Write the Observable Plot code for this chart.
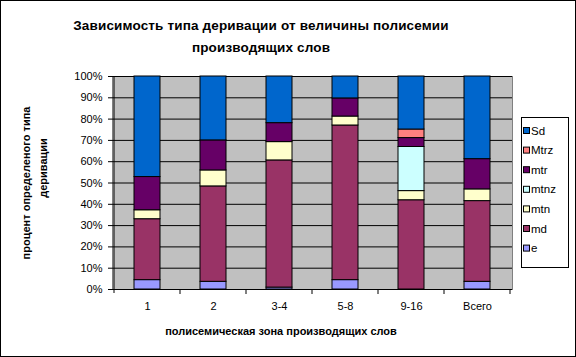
<!DOCTYPE html>
<html>
<head>
<meta charset="utf-8">
<script src="https://cdn.jsdelivr.net/npm/d3@7"></script>
<script src="https://cdn.jsdelivr.net/npm/@observablehq/plot@0.6"></script>
<style>
  html, body { margin: 0; padding: 0; background: white; }
  svg { display: block; }
</style>
</head>
<body>
<div id="chart"></div>
<script>
const categories = ["1", "2", "3-4", "5-8", "9-16", "Всего"];
// percent values per series (bottom to top order in stack)
const e    = [4.4, 3.6, 0.9, 4.4, 0.0, 3.6];
const md   = [28.6, 44.8, 59.7, 72.6, 41.9, 37.9];
const mtn  = [4.2, 7.5, 8.6, 4.2, 4.3, 5.5];
const mtnz = [0, 0, 0, 0, 20.7, 0];
const mtr  = [15.6, 14.1, 8.9, 8.5, 4.2, 14.2];
const Mtrz = [0, 0, 0, 0, 4.0, 0];
const Sd   = [47.2, 30.0, 21.9, 10.3, 24.9, 38.8];

const stackOrder = ["e", "md", "mtn", "mtnz", "mtr", "Mtrz", "Sd"];
const legendOrder = ["Sd", "Mtrz", "mtr", "mtnz", "mtn", "md", "e"];
const seriesColors = ["#9999FF", "#993366", "#FFFFCC", "#CCFFFF", "#660066", "#FF8080", "#0066CC"];
const seriesValues = [e, md, mtn, mtnz, mtr, Mtrz, Sd];

const titleLines = ["Зависимость типа деривации от величины полисемии", "производящих слов"];
const yTitleLines = ["процент определеного типа", "деривации"];
const xTitle = "полисемическая зона производящих слов";
const yTicks = [0, 0.1, 0.2, 0.3, 0.4, 0.5, 0.6, 0.7, 0.8, 0.9, 1];

const rows = categories.flatMap((c, i) =>
  stackOrder.map((s, j) => ({cat: c, series: s, value: seriesValues[j][i] / 100}))
);

const font = "'Liberation Sans', Arial, sans-serif";

const chart = Plot.plot({
  width: 576,
  height: 357,
  marginLeft: 112,
  marginRight: 64,
  marginTop: 76,
  marginBottom: 68,
  style: {background: "white", fontFamily: font, fontSize: "11px", color: "black", overflow: "visible"},
  x: {domain: categories, paddingInner: 0.61, paddingOuter: 0.305, label: null},
  y: {domain: [0, 1], label: null},
  color: {domain: stackOrder, range: seriesColors},
  marks: [
    Plot.frame({fill: "#C0C0C0", stroke: "#808080"}),
    Plot.gridY(yTicks, {stroke: "black", strokeOpacity: 1}),
    Plot.barY(rows, Plot.stackY({order: stackOrder}, {x: "cat", y: "value", fill: "series", stroke: "black", strokeWidth: 1})),
    Plot.ruleY([0], {stroke: "black"}),
    Plot.axisY(yTicks, {tickSize: 4, tickPadding: 6, tickFormat: d3.format(".0%"), stroke: "black", label: null, fontSize: 11}),
    Plot.axisX({tickSize: 0, tickPadding: 13, label: null, fontSize: 11})
  ]
});

document.getElementById("chart").appendChild(chart);

const svg = d3.select(chart);
const xs = chart.scale("x");
const ys = chart.scale("y");
const step = xs.step;
const x0 = xs.apply(categories[0]) - (step - xs.bandwidth) / 2;
const yBottom = ys.apply(0);
const yTop = ys.apply(1);

// left axis line
svg.append("line").attr("x1", x0).attr("x2", x0).attr("y1", yTop).attr("y2", yBottom + 4)
  .attr("stroke", "black");
// category boundary ticks
for (let i = 1; i <= categories.length; i++) {
  const bx = x0 + i * step;
  svg.append("line").attr("x1", bx).attr("x2", bx).attr("y1", yBottom).attr("y2", yBottom + 5)
    .attr("stroke", "black");
}

// outer border
svg.append("rect").attr("x", 0.5).attr("y", 0.5).attr("width", 575).attr("height", 356)
  .attr("fill", "none").attr("stroke", "black");

// title
titleLines.forEach((t, i) => {
  svg.append("text").attr("x", 261).attr("y", 30 + i * 22)
    .attr("text-anchor", "middle").attr("font-family", font)
    .attr("font-size", 13.5).attr("letter-spacing", 0.15).attr("font-weight", "bold").text(t);
});

// x title
svg.append("text").attr("x", 281).attr("y", 335).attr("text-anchor", "middle")
  .attr("font-family", font).attr("font-size", 11).attr("font-weight", "bold").text(xTitle);

// y title (rotated)
const yTitleX = [30, 47];
const yTitleY = [183, 168];
yTitleLines.forEach((t, i) => {
  svg.append("text")
    .attr("transform", `translate(${yTitleX[i]},${yTitleY[i]}) rotate(-90)`)
    .attr("text-anchor", "middle").attr("font-family", font)
    .attr("font-size", 11).attr("font-weight", "bold").text(t);
});

// legend
const lg = svg.append("g").attr("text-anchor", "start");
lg.append("rect").attr("x", 521.5).attr("y", 117.5).attr("width", 47).attr("height", 150)
  .attr("fill", "white").attr("stroke", "black");
legendOrder.forEach((s, i) => {
  const cy = 130.5 + i * 19.6;
  const col = seriesColors[stackOrder.indexOf(s)];
  lg.append("rect").attr("x", 523.5).attr("y", cy - 3).attr("width", 6).attr("height", 6)
    .attr("fill", col).attr("stroke", "black");
  lg.append("text").attr("x", 531).attr("y", cy + 4).attr("text-anchor", "start")
    .attr("font-family", font).attr("font-size", 11.5).text(s);
});
</script>
</body>
</html>
